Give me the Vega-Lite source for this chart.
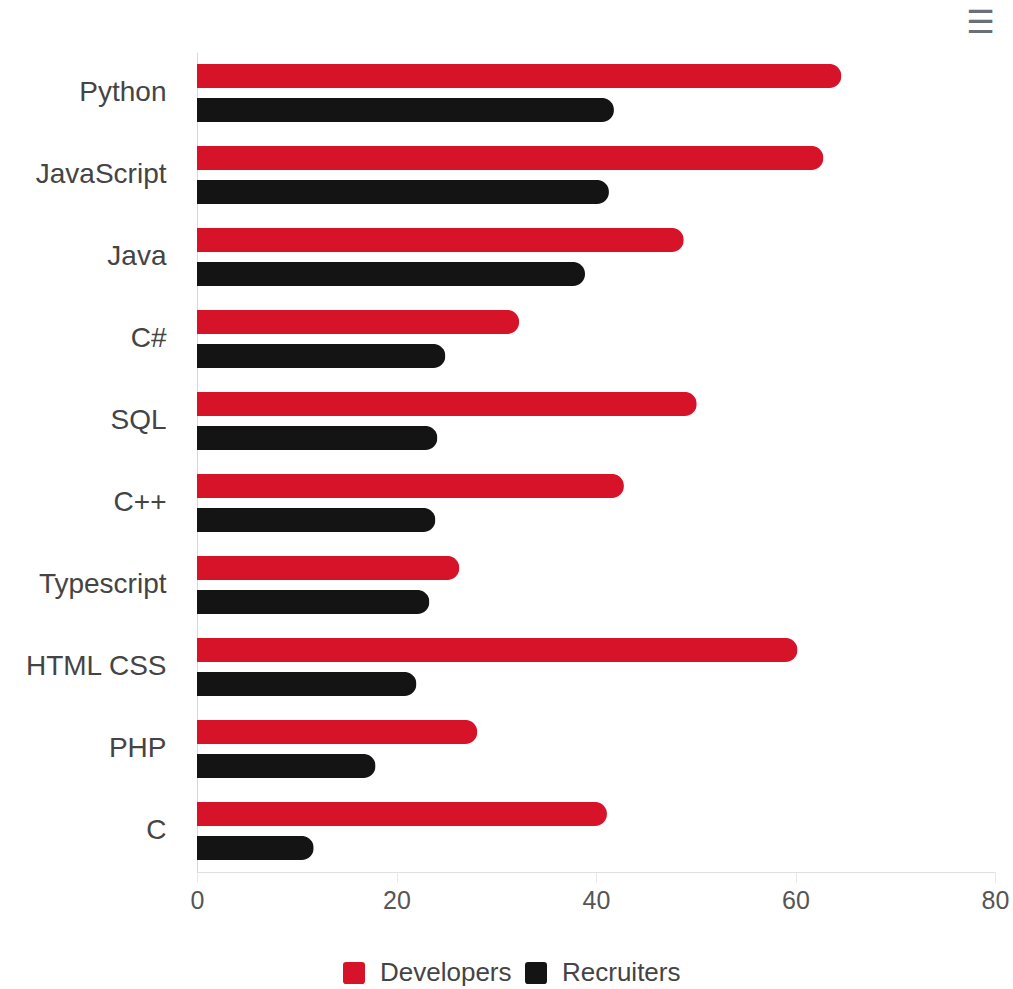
{
  "$schema": "https://vega.github.io/schema/vega-lite/v6.json",
  "width": 798,
  "height": 820,
  "autosize": "none",
  "padding": {"left": 197, "top": 52, "right": 18, "bottom": 117},
  "background": "#ffffff",
  "title": {"text": "☰", "anchor": "end", "fontSize": 32, "color": "#6a6f78", "font": "DejaVu Sans", "fontWeight": "normal", "offset": 12, "dx": -14},
  "data": {
    "values": [
      {"language": "Python", "group": "Developers", "value": 64.6},
      {"language": "Python", "group": "Recruiters", "value": 41.8},
      {"language": "JavaScript", "group": "Developers", "value": 62.8},
      {"language": "JavaScript", "group": "Recruiters", "value": 41.3},
      {"language": "Java", "group": "Developers", "value": 48.8},
      {"language": "Java", "group": "Recruiters", "value": 38.9},
      {"language": "C#", "group": "Developers", "value": 32.3},
      {"language": "C#", "group": "Recruiters", "value": 24.9},
      {"language": "SQL", "group": "Developers", "value": 50.1},
      {"language": "SQL", "group": "Recruiters", "value": 24.1},
      {"language": "C++", "group": "Developers", "value": 42.8},
      {"language": "C++", "group": "Recruiters", "value": 23.9},
      {"language": "Typescript", "group": "Developers", "value": 26.3},
      {"language": "Typescript", "group": "Recruiters", "value": 23.3},
      {"language": "HTML CSS", "group": "Developers", "value": 60.2},
      {"language": "HTML CSS", "group": "Recruiters", "value": 22.0},
      {"language": "PHP", "group": "Developers", "value": 28.1},
      {"language": "PHP", "group": "Recruiters", "value": 17.9},
      {"language": "C", "group": "Developers", "value": 41.1},
      {"language": "C", "group": "Recruiters", "value": 11.7}
    ]
  },
  "mark": {"type": "bar", "cornerRadiusEnd": 12},
  "encoding": {
    "y": {
      "field": "language",
      "type": "nominal",
      "sort": null,
      "scale": {"paddingInner": 0, "paddingOuter": 0},
      "axis": {
        "title": null,
        "ticks": false,
        "domainColor": "#d8d8d8",
        "labelFont": "Liberation Sans",
        "labelFontSize": 28,
        "labelColor": "#444444",
        "labelPadding": 31
      }
    },
    "yOffset": {
      "field": "group",
      "type": "nominal",
      "scale": {"paddingInner": 0.29, "paddingOuter": 0.35}
    },
    "x": {
      "field": "value",
      "type": "quantitative",
      "scale": {"domain": [0, 80], "nice": false},
      "axis": {
        "title": null,
        "grid": false,
        "values": [0, 20, 40, 60, 80],
        "domainColor": "#e0e0e0",
        "tickColor": "#e8e8e8",
        "tickSize": 10,
        "labelFont": "Liberation Sans",
        "labelFontSize": 25,
        "labelColor": "#555555",
        "labelPadding": 6,
        "labelFlush": false
      }
    },
    "color": {
      "field": "group",
      "type": "nominal",
      "scale": {"domain": ["Developers", "Recruiters"], "range": ["#D7132A", "#141414"]},
      "legend": {
        "title": null,
        "orient": "none",
        "direction": "horizontal",
        "legendX": 144,
        "legendY": 908,
        "symbolType": "M-0.72,-1H0.72Q1,-1 1,-0.72V0.72Q1,1 0.72,1H-0.72Q-1,1 -1,0.72V-0.72Q-1,-1 -0.72,-1Z",
        "symbolSize": 484,
        "symbolStrokeWidth": 0,
        "labelFont": "Liberation Sans",
        "labelFontSize": 26,
        "labelColor": "#444444",
        "labelOffset": 13,
        "columnPadding": 11
      }
    }
  },
  "config": {"view": {"stroke": null}}
}
